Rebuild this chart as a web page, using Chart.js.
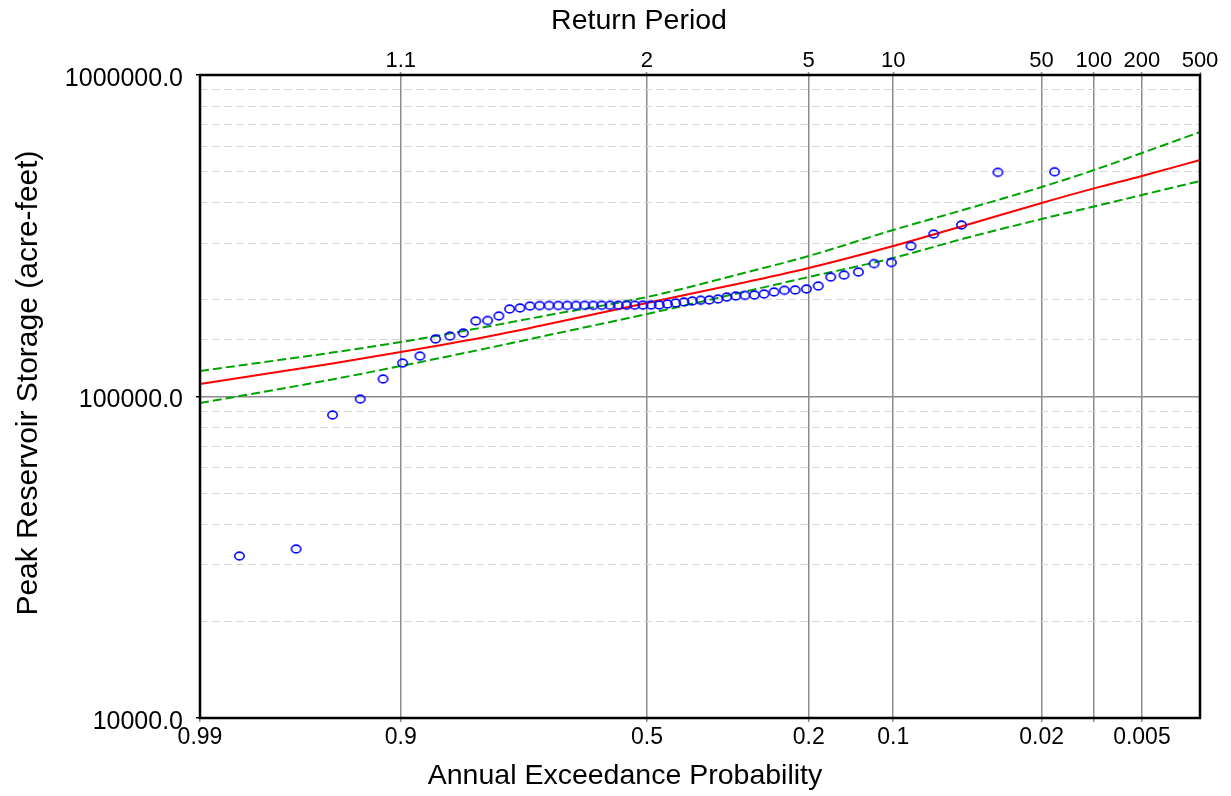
<!DOCTYPE html>
<html>
<head>
<meta charset="utf-8">
<title>Peak Reservoir Storage Frequency Curve</title>
<script src="https://cdn.jsdelivr.net/npm/chart.js@4.4.1/dist/chart.umd.min.js"></script>
<style>
  html, body { margin: 0; padding: 0; background: #ffffff; }
  #wrap { width: 1231px; height: 796px; position: relative; }
</style>
</head>
<body>
<div id="wrap"><canvas id="chart"></canvas></div>
<script>
// ---- Observed annual peaks (Weibull plotting positions) ----
const plottingAep = [
  0.01695, 0.03390, 0.05085, 0.06780, 0.08475, 0.10169, 0.11864, 0.13559, 0.15254, 0.16949,
  0.18644, 0.20339, 0.22034, 0.23729, 0.25424, 0.27119, 0.28814, 0.30508, 0.32203, 0.33898,
  0.35593, 0.37288, 0.38983, 0.40678, 0.42373, 0.44068, 0.45763, 0.47458, 0.49153, 0.50847,
  0.52542, 0.54237, 0.55932, 0.57627, 0.59322, 0.61017, 0.62712, 0.64407, 0.66102, 0.67797,
  0.69492, 0.71186, 0.72881, 0.74576, 0.76271, 0.77966, 0.79661, 0.81356, 0.83051, 0.84746,
  0.86441, 0.88136, 0.89831, 0.91525, 0.93220, 0.94915, 0.96610, 0.98305
];
const peakStorage = [
  500000, 498000, 341600, 320200, 293900, 261000, 259000, 243900, 238700, 235300,
  220700, 216000, 214500, 214000, 211400, 208400, 206900, 206400, 205400, 203900,
  201000, 199600, 199300, 198200, 196800, 195400, 194000, 192600, 192500, 192400,
  192400, 192300, 192300, 192200, 192200, 192100, 192100, 192000, 192000, 191900,
  191900, 191800, 191200, 188500, 187200, 178000, 172400, 171800, 157600, 154200,
  151000, 133600, 127100, 113400, 98200, 87600, 33560, 31900
];

// ---- Computed frequency curve and confidence limits ----
const curveAep      = [0.99, 0.95, 0.9, 0.8, 0.7, 0.5, 0.3, 0.2, 0.1, 0.05, 0.02, 0.01, 0.005, 0.002];
const computedCurve = [109400, 126400, 137500, 153100, 167500, 195400, 227500, 251000, 293900, 339200, 399900, 444000, 485000, 543900];
const upperLimit    = [120100, 136800, 147700, 164500, 178600, 203900, 243900, 273500, 329600, 380300, 448400, 506300, 572000, 664800];
const lowerLimit    = [95450, 112800, 124400, 140900, 154700, 180600, 212900, 235300, 269700, 309500, 356500, 389900, 423400, 468000];

// ---- Axis ticks ----
const aepRange           = [0.99, 0.002];
const aepTicks           = [0.99, 0.9, 0.5, 0.2, 0.1, 0.02, 0.01, 0.005];
const aepTickLabels      = ['0.99', '0.9', '0.5', '0.2', '0.1', '0.02', '', '0.005'];
const returnPeriodAep    = [0.9, 0.5, 0.2, 0.1, 0.02, 0.01, 0.005, 0.002];
const returnPeriodLabels = ['1.1', '2', '5', '10', '50', '100', '200', '500'];
const storageRange       = [10000, 1000000];
const storageTickValues  = [10000, 100000, 1000000];
const storageTickLabels  = ['10000.0', '100000.0', '1000000.0'];

const titleTop    = 'Return Period';
const titleBottom = 'Annual Exceedance Probability';
const titleLeft   = 'Peak Reservoir Storage (acre-feet)';

// Inverse standard normal CDF (Acklam's rational approximation)
function probit(p) {
  const a = [-3.969683028665376e+01, 2.209460984245205e+02, -2.759285104469687e+02, 1.383577518672690e+02, -3.066479806614716e+01, 2.506628277459239e+00];
  const b = [-5.447609879822406e+01, 1.615858368580409e+02, -1.556989798598866e+02, 6.680131188771972e+01, -1.328068155288572e+01];
  const c = [-7.784894002430293e-03, -3.223964580411365e-01, -2.400758277161838e+00, -2.549732539343734e+00, 4.374664141464968e+00, 2.938163982698783e+00];
  const d = [7.784695709041462e-03, 3.224671290700398e-01, 2.445134137142996e+00, 3.754408661907416e+00];
  const pl = 0.02425, ph = 1 - pl;
  let q, r;
  if (p < pl) {
    q = Math.sqrt(-2 * Math.log(p));
    return (((((c[0]*q + c[1])*q + c[2])*q + c[3])*q + c[4])*q + c[5]) / ((((d[0]*q + d[1])*q + d[2])*q + d[3])*q + 1);
  }
  if (p > ph) {
    q = Math.sqrt(-2 * Math.log(1 - p));
    return -(((((c[0]*q + c[1])*q + c[2])*q + c[3])*q + c[4])*q + c[5]) / ((((d[0]*q + d[1])*q + d[2])*q + d[3])*q + 1);
  }
  q = p - 0.5; r = q * q;
  return (((((a[0]*r + a[1])*r + a[2])*r + a[3])*r + a[4])*r + a[5])*q / (((((b[0]*r + b[1])*r + b[2])*r + b[3])*r + b[4])*r + 1);
}
function normalCdf(z) {
  const t = 1 / (1 + 0.2316419 * Math.abs(z));
  const dd = 0.3989423 * Math.exp(-z * z / 2);
  const p = dd * t * (0.3193815 + t * (-0.3565638 + t * (1.781478 + t * (-1.821256 + t * 1.330274))));
  return z > 0 ? 1 - p : p;
}

// Normal-probability axis: values are exceedance probabilities,
// positioned by the standard normal quantile of non-exceedance.
class ProbabilityScale extends Chart.Scale {
  static id = 'probability';
  static defaults = {};
  parse(raw) { return raw == null ? NaN : +raw; }
  determineDataLimits() {
    const r = this.options.aepRange;
    this.min = Math.min(r[0], r[1]);
    this.max = Math.max(r[0], r[1]);
  }
  buildTicks() {
    const r = this.options.aepRange;
    this._zStart = -probit(r[0]);
    this._zEnd = -probit(r[1]);
    return (this.options.tickAep || []).map(v => ({ value: v }));
  }
  getLabelForValue(v) { return String(v); }
  getPixelForValue(v) {
    const z = -probit(v);
    return this.getPixelForDecimal((z - this._zStart) / (this._zEnd - this._zStart));
  }
  getValueForPixel(px) {
    const z = this._zStart + this.getDecimalForPixel(px) * (this._zEnd - this._zStart);
    return 1 - normalCdf(z);
  }
}
Chart.register(ProbabilityScale);

function ellipseMarker(rx, ry, lw, color) {
  const c = document.createElement('canvas');
  const w = Math.ceil(2 * rx + lw + 2), h = Math.ceil(2 * ry + lw + 2);
  c.width = w; c.height = h;
  const g = c.getContext('2d');
  g.strokeStyle = color; g.lineWidth = lw;
  g.beginPath(); g.ellipse(w / 2, h / 2, rx, ry, 0, 0, Math.PI * 2); g.stroke();
  return c;
}

const FONT = '"Liberation Sans", Arial, Helvetica, sans-serif';
Chart.defaults.font.family = FONT;
Chart.defaults.color = '#000000';

const isDecade = v => {
  if (v == null || !(v > 0)) return false;
  const l = Math.log10(v);
  return Math.abs(l - Math.round(l)) < 1e-9;
};
const tickVal = ctx => (ctx && ctx.tick ? ctx.tick.value : null);

const framePlugin = {
  id: 'frameAndTitles',
  afterDraw(chart) {
    const { ctx, chartArea: a } = chart;
    ctx.save();
    ctx.strokeStyle = '#000000';
    ctx.lineWidth = 2.5;
    ctx.strokeRect(a.left, a.top, a.right - a.left, a.bottom - a.top);

    ctx.fillStyle = '#000000';
    ctx.textAlign = 'center';
    ctx.textBaseline = 'alphabetic';
    ctx.font = '28.5px ' + FONT;
    ctx.fillText(titleTop, 639, 29);
    ctx.fillText(titleBottom, 625, 784);
    ctx.translate(37, 383);
    ctx.rotate(-Math.PI / 2);
    ctx.font = '30px ' + FONT;
    ctx.fillText(titleLeft, 0, 0);
    ctx.restore();
  }
};

const toPoints = (xs, ys) => xs.map((x, i) => ({ x: x, y: ys[i] }));

new Chart(document.getElementById('chart'), {
  type: 'scatter',
  data: {
    datasets: [
      {
        label: 'Observed',
        data: toPoints(plottingAep, peakStorage),
        pointStyle: ellipseMarker(4.7, 3.9, 1.6, '#0000ff'),
        pointRadius: 5,
        order: 0
      },
      {
        label: 'Computed Curve',
        data: toPoints(curveAep, computedCurve),
        showLine: true,
        borderColor: '#ff0000',
        borderWidth: 2,
        pointRadius: 0,
        cubicInterpolationMode: 'monotone',
        order: 1
      },
      {
        label: '5% Confidence Limit',
        data: toPoints(curveAep, upperLimit),
        showLine: true,
        borderColor: '#00a400',
        borderWidth: 2,
        borderDash: [9, 4],
        pointRadius: 0,
        cubicInterpolationMode: 'monotone',
        order: 2
      },
      {
        label: '95% Confidence Limit',
        data: toPoints(curveAep, lowerLimit),
        showLine: true,
        borderColor: '#00a400',
        borderWidth: 2,
        borderDash: [9, 4],
        pointRadius: 0,
        cubicInterpolationMode: 'monotone',
        order: 2
      }
    ]
  },
  options: {
    responsive: true,
    maintainAspectRatio: false,
    devicePixelRatio: 1,
    animation: false,
    events: [],
    layout: { padding: { left: 0, right: 31, top: 0, bottom: 0 } },
    plugins: { legend: { display: false }, tooltip: { enabled: false }, title: { display: false } },
    scales: {
      x: {
        type: 'probability',
        position: 'bottom',
        aepRange: aepRange,
        tickAep: aepTicks,
        afterFit: s => { s.height = 78; },
        border: { display: false },
        grid: { color: '#8c8c8c', lineWidth: 1.5, tickColor: '#8c8c8c', tickLength: 4, tickWidth: 1.5 },
        ticks: {
          autoSkip: false, maxRotation: 0, padding: 2,
          font: { size: 23, family: FONT },
          callback: (v, i) => aepTickLabels[i]
        }
      },
      x2: {
        type: 'probability',
        position: 'top',
        aepRange: aepRange,
        tickAep: returnPeriodAep,
        afterFit: s => { s.height = 75; },
        border: { display: false },
        grid: { drawOnChartArea: false, tickColor: '#8c8c8c', tickLength: 3, tickWidth: 1.5 },
        ticks: {
          autoSkip: false, maxRotation: 0, padding: 0,
          font: { size: 22, family: FONT, lineHeight: 1 },
          callback: (v, i) => returnPeriodLabels[i]
        }
      },
      y: {
        type: 'logarithmic',
        position: 'left',
        min: storageRange[0],
        max: storageRange[1],
        afterFit: s => { s.width = 200; },
        border: {
          display: false,
          dash: ctx => (isDecade(tickVal(ctx)) || tickVal(ctx) == null ? [] : [8, 4])
        },
        grid: {
          color: ctx => (isDecade(tickVal(ctx)) ? '#8c8c8c' : '#d6d6d6'),
          lineWidth: ctx => (isDecade(tickVal(ctx)) ? 1.5 : 1),
          tickColor: ctx => (isDecade(tickVal(ctx)) ? '#000000' : 'rgba(0,0,0,0)'),
          tickLength: 4,
          tickWidth: 1.5
        },
        ticks: {
          autoSkip: false, padding: 13, labelOffset: 4,
          font: { size: 25, family: FONT },
          callback: v => {
            const k = storageTickValues.findIndex(t => Math.abs(t - v) < 1e-6 * t);
            return k >= 0 ? storageTickLabels[k] : '';
          }
        }
      }
    }
  },
  plugins: [framePlugin]
});
</script>
</body>
</html>
